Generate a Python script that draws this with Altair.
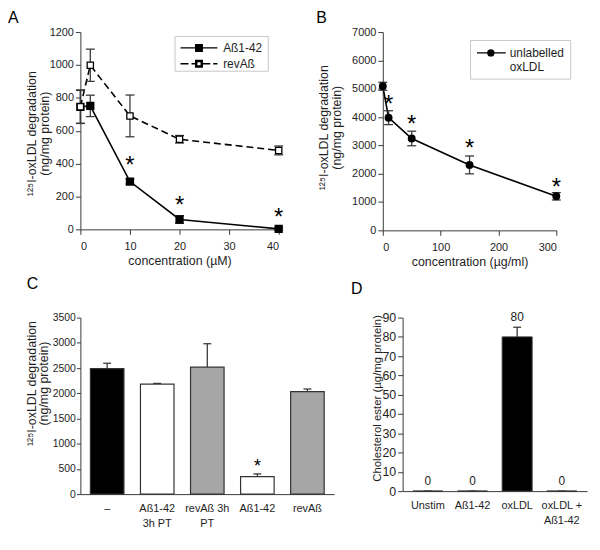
import altair as alt
import pandas as pd

FONT = "Liberation Sans"
INK = "#1e1e1e"
AXC = "#3a3a3a"

# ---------------- Panel A ----------------
a_conc = [0, 2, 10, 20, 40]
a_abeta = [745, 751, 291, 60, 3]
a_abeta_err = [100, 65, 15, 23, 8]
a_rev = [746, 998, 690, 548, 480]
a_rev_err = [102, 98, 127, 23, 27]
a_series = ["Aß1-42", "revAß"]
a_star_conc = [10, 20, 40]
a_star_val = [400, 154, 83]
a_xticks = [0, 10, 20, 30, 40]
a_yticks = [0, 200, 400, 600, 800, 1000, 1200]

# ---------------- Panel B ----------------
b_conc = [0, 10, 50, 150, 300]
b_val = [5087, 3978, 3243, 2310, 1202]
b_err = [140, 245, 257, 315, 130]
b_series = ["unlabelled oxLDL"]
b_star_conc = [10, 50, 150, 300]
b_star_val = [4500, 3770, 2950, 1580]
b_xticks = [0, 100, 200, 300]
b_yticks = [0, 1000, 2000, 3000, 4000, 5000, 6000, 7000]

# ---------------- Panel C ----------------
c_cats = ["–", "Aß1-42\n3h PT", "revAß 3h\nPT", "Aß1-42", "revAß"]
c_group = ["none", "Aß1-42", "revAß", "Aß1-42", "revAß"]
c_val = [2490, 2182, 2517, 348, 2032]
c_err = [105, 13, 465, 52, 52]
c_star_cat = ["Aß1-42"]
c_star_val = [585]
c_yticks = [0, 500, 1000, 1500, 2000, 2500, 3000, 3500]

# ---------------- Panel D ----------------
d_cats = ["Unstim", "Aß1-42", "oxLDL", "oxLDL +\nAß1-42"]
d_val = [0, 0, 80, 0]
d_err = [0, 0, 5, 0]
d_yticks = [0, 10, 20, 30, 40, 50, 60, 70, 80, 90]

YTITLE = ["¹²⁵I-oxLDL degradation", "(ng/mg protein)"]


def ptitle(letter, dx, offset):
    return alt.TitleParams(text=letter, anchor="start", frame="group", fontSize=16,
                           fontWeight="normal", font=FONT, color="black", dx=dx, offset=offset)


def qx(field, domain, ticks, title):
    return alt.X(field + ":Q", scale=alt.Scale(domain=domain, nice=False),
                 axis=alt.Axis(values=ticks, title=title, format="d", labelPadding=6))


def qy(field, domain, ticks, title, tx, ty, **kw):
    return alt.Y(field + ":Q", scale=alt.Scale(domain=domain, nice=False),
                 axis=alt.Axis(values=ticks, title=title, format="d", titleX=tx, titleY=ty,
                               titleBaseline="top", titleAlign="center", titleAngle=270, **kw))


LEG = dict(orient="none", symbolSize=144, labelFontSize=12, labelFont=FONT,
           labelColor=INK, symbolStrokeWidth=1.4, symbolStrokeColor="black", symbolOpacity=1)

# ---------- A ----------
dfA = pd.DataFrame({
    "conc": a_conc * 2,
    "val": a_abeta + a_rev,
    "err": a_abeta_err + a_rev_err,
    "series": [a_series[0]] * len(a_conc) + [a_series[1]] * len(a_conc),
})
baseA = alt.Chart(dfA).transform_calculate(lo="datum.val - datum.err", hi="datum.val + datum.err")


def xA(f="conc"):
    return qx(f, [0, 40], a_xticks, "concentration (µM)")


def yA(f="val"):
    return qy(f, [0, 1200], a_yticks, YTITLE, -55, 102)


pathA_solid = "M-1,0H1.55M2.65,0H5.2M1.55,-0.55H2.65V0.55H1.55Z"
pathA_dash = ("M-1,0H0.35M0.85,0H1.55M2.65,0H4M4.5,0H5.2"
              "M1.55,-0.55H2.65V0.55H1.55ZM1.72,-0.38V0.38H2.48V-0.38Z")
legA1 = alt.Legend(legendX=95, legendY=4, padding=5, labelOffset=30, strokeColor="#c8c8c8",
                   title=a_series[0], titleOrient="bottom", titleOpacity=0, titleFontSize=9,
                   titlePadding=3, **LEG)
legA2 = alt.Legend(legendX=100, legendY=25, padding=0, labelOffset=30, title=None, **LEG)

A = alt.layer(
    baseA.transform_filter(alt.datum.series == a_series[0]).mark_line(color="black", strokeWidth=1.6).encode(x=xA(), y=yA()),
    baseA.transform_filter(alt.datum.series == a_series[1]).mark_line(color="black", strokeWidth=1.6, strokeDash=[7, 4]).encode(x=xA(), y=yA()),
    baseA.mark_rule(color=AXC, strokeWidth=1.3).encode(x=xA(), y=yA("lo"), y2="hi:Q"),
    baseA.mark_tick(orient="horizontal", size=9, thickness=1.3, color=AXC, opacity=1).encode(x=xA(), y=yA("lo")),
    baseA.mark_tick(orient="horizontal", size=9, thickness=1.3, color=AXC, opacity=1).encode(x=xA(), y=yA("hi")),
    baseA.transform_filter(alt.datum.series == a_series[0]).mark_point(
        shape="square", size=40, filled=True, fill="black", stroke="black", opacity=1).encode(x=xA(), y=yA()),
    baseA.transform_filter(alt.datum.series == a_series[1]).mark_point(
        shape="square", size=40, filled=True, fill="white", stroke="black", strokeWidth=1.3, opacity=1).encode(x=xA(), y=yA()),
    alt.Chart(pd.DataFrame({"conc": a_star_conc, "val": a_star_val})).mark_text(
        text="*", fontSize=24, font=FONT, baseline="alphabetic", dy=9, color="black").encode(x=xA(), y=yA()),
    baseA.transform_filter("false").mark_point(
        shape=pathA_solid, opacity=1, filled=True, stroke="black", strokeWidth=1.4, size=144).encode(
        x=xA(), y=yA(),
        fill=alt.Fill("series:N", scale=alt.Scale(domain=a_series[:1], range=["black"]), legend=legA1)),
    baseA.transform_filter("false").mark_point(
        shape=pathA_dash, opacity=1, filled=True, fill="black", strokeWidth=1.4, size=144).encode(
        x=xA(), y=yA(),
        stroke=alt.Stroke("series:N", scale=alt.Scale(domain=a_series[1:], range=["black"]), legend=legA2)),
).properties(width=200, height=199, title=ptitle("  A", -73, 0))

# ---------- B ----------
dfB = pd.DataFrame({"conc": b_conc, "val": b_val, "err": b_err, "series": b_series * len(b_conc)})
baseB = alt.Chart(dfB).transform_calculate(lo="datum.val - datum.err", hi="datum.val + datum.err")


def xB(f="conc"):
    return qx(f, [0, 300], b_xticks, "concentration (µg/ml)")


def yB(f="val"):
    return qy(f, [0, 7000], b_yticks, YTITLE, -66, 96)


pathB = "M-1,0H3.83M0.83,0A0.5,0.5 0 1,0 1.83,0A0.5,0.5 0 1,0 0.83,0Z"
legB = alt.Legend(legendX=88, legendY=8, padding=6, labelOffset=20, strokeColor="#c8c8c8", title=None,
                  labelExpr="['unlabelled', 'oxLDL']", **LEG)

B = alt.layer(
    baseB.mark_line(color="black", strokeWidth=1.6).encode(x=xB(), y=yB()),
    baseB.mark_rule(color=AXC, strokeWidth=1.3).encode(x=xB(), y=yB("lo"), y2="hi:Q"),
    baseB.mark_tick(orient="horizontal", size=9, thickness=1.3, color=AXC, opacity=1).encode(x=xB(), y=yB("lo")),
    baseB.mark_tick(orient="horizontal", size=9, thickness=1.3, color=AXC, opacity=1).encode(x=xB(), y=yB("hi")),
    baseB.mark_point(shape="circle", size=36, filled=True, fill="black", stroke="black", opacity=1).encode(x=xB(), y=yB()),
    alt.Chart(pd.DataFrame({"conc": b_star_conc, "val": b_star_val})).mark_text(
        text="*", fontSize=24, font=FONT, baseline="alphabetic", dy=9, color="black").encode(x=xB(), y=yB()),
    baseB.transform_filter("false").mark_point(
        shape=pathB, opacity=1, filled=True, stroke="black", strokeWidth=1.4, size=144).encode(
        x=xB(), y=yB(),
        fill=alt.Fill("series:N", scale=alt.Scale(domain=b_series, range=["black"]), legend=legB)),
).properties(width=175, height=200, title=ptitle("B", -67, 0))

# ---------- C ----------
dfC = pd.DataFrame({"cat": c_cats, "grp": c_group, "val": c_val, "err": c_err})
baseC = alt.Chart(dfC).transform_calculate(hi="datum.val + datum.err")


def xC():
    return alt.X("cat:N", sort=c_cats, scale=alt.Scale(paddingInner=0.33, paddingOuter=0.2),
                 axis=alt.Axis(title=None, labelAngle=0, ticks=False, labelPadding=9, labelFontSize=11,
                               labelLineHeight=15, labelExpr="split(datum.value, '\\n')"))


def yC(f="val"):
    return qy(f, [0, 3500], c_yticks, YTITLE, -55, 66, labelFontSize=10.5, labelPadding=1,
              tickSize=4, titleLineHeight=12)


C = alt.layer(
    baseC.mark_rule(color=AXC, strokeWidth=1.3).encode(x=xC(), y=yC(), y2="hi:Q"),
    baseC.mark_tick(orient="horizontal", size=8, thickness=1.3, color=AXC, opacity=1).encode(x=xC(), y=yC("hi")),
    baseC.mark_bar(stroke="#333333", strokeWidth=1.2).encode(
        x=xC(), y=yC(),
        fill=alt.Fill("grp:N", scale=alt.Scale(domain=["none", "Aß1-42", "revAß"],
                                              range=["black", "white", "#a6a6a6"]), legend=None)),
    alt.Chart(pd.DataFrame({"cat": c_star_cat, "val": c_star_val})).mark_text(
        text="*", fontSize=18, font=FONT, baseline="alphabetic", dy=7, color="black").encode(x=xC(), y=yC()),
).properties(width=256, height=178, title=ptitle("C", -54, 21))

# ---------- D ----------
dfD = pd.DataFrame({"cat": d_cats, "val": d_val, "err": d_err})
baseD = alt.Chart(dfD).transform_calculate(hi="datum.val + datum.err")


def xD():
    return alt.X("cat:N", sort=d_cats, scale=alt.Scale(paddingInner=0.33, paddingOuter=0.23),
                 axis=alt.Axis(title=None, labelAngle=0, ticks=False, labelPadding=9, labelFontSize=11,
                               labelLineHeight=15, labelExpr="split(datum.value, '\\n')"))


def yD(f="val"):
    return qy(f, [0, 90], d_yticks, "Cholesterol ester (µg/mg protein)", -31, 81,
              labelFontSize=12.5, titleFontSize=11.5)


D = alt.layer(
    baseD.mark_rule(color=AXC, strokeWidth=1.3).encode(x=xD(), y=yD(), y2="hi:Q"),
    baseD.mark_tick(orient="horizontal", size=8, thickness=1.3, color=AXC, opacity=1).encode(x=xD(), y=yD("hi")),
    baseD.mark_bar(fill="black", stroke="#333333", strokeWidth=1).encode(x=xD(), y=yD()),
    baseD.mark_text(font=FONT, fontSize=12, baseline="bottom", dy=-3, color=INK).encode(
        x=xD(), y=yD("hi"), text=alt.Text("val:Q", format="d")),
).properties(width=186, height=175, title=ptitle("D", -52, 15))

indep = dict(fill="independent", shape="independent", stroke="independent")
top = alt.hconcat(A, B, spacing=30).resolve_scale(**indep)
bottom = alt.hconcat(C, D, spacing=17).resolve_scale(**indep)
chart = alt.vconcat(top, bottom, spacing=8).resolve_scale(**indep).properties(
    padding={"left": 0, "top": 0, "right": 5, "bottom": 5}
).configure_view(
    stroke=None
).configure_axis(
    grid=False, labelFont=FONT, titleFont=FONT, labelFontSize=11, titleFontSize=12.5,
    titleFontWeight="normal", labelColor=INK, titleColor=INK, domainColor=AXC, tickColor=AXC,
    tickSize=5, labelPadding=2, titlePadding=3, labelOverlap=False, titleLineHeight=13
)

chart.save("out.html", embed_options={"renderer": "svg", "actions": False})
